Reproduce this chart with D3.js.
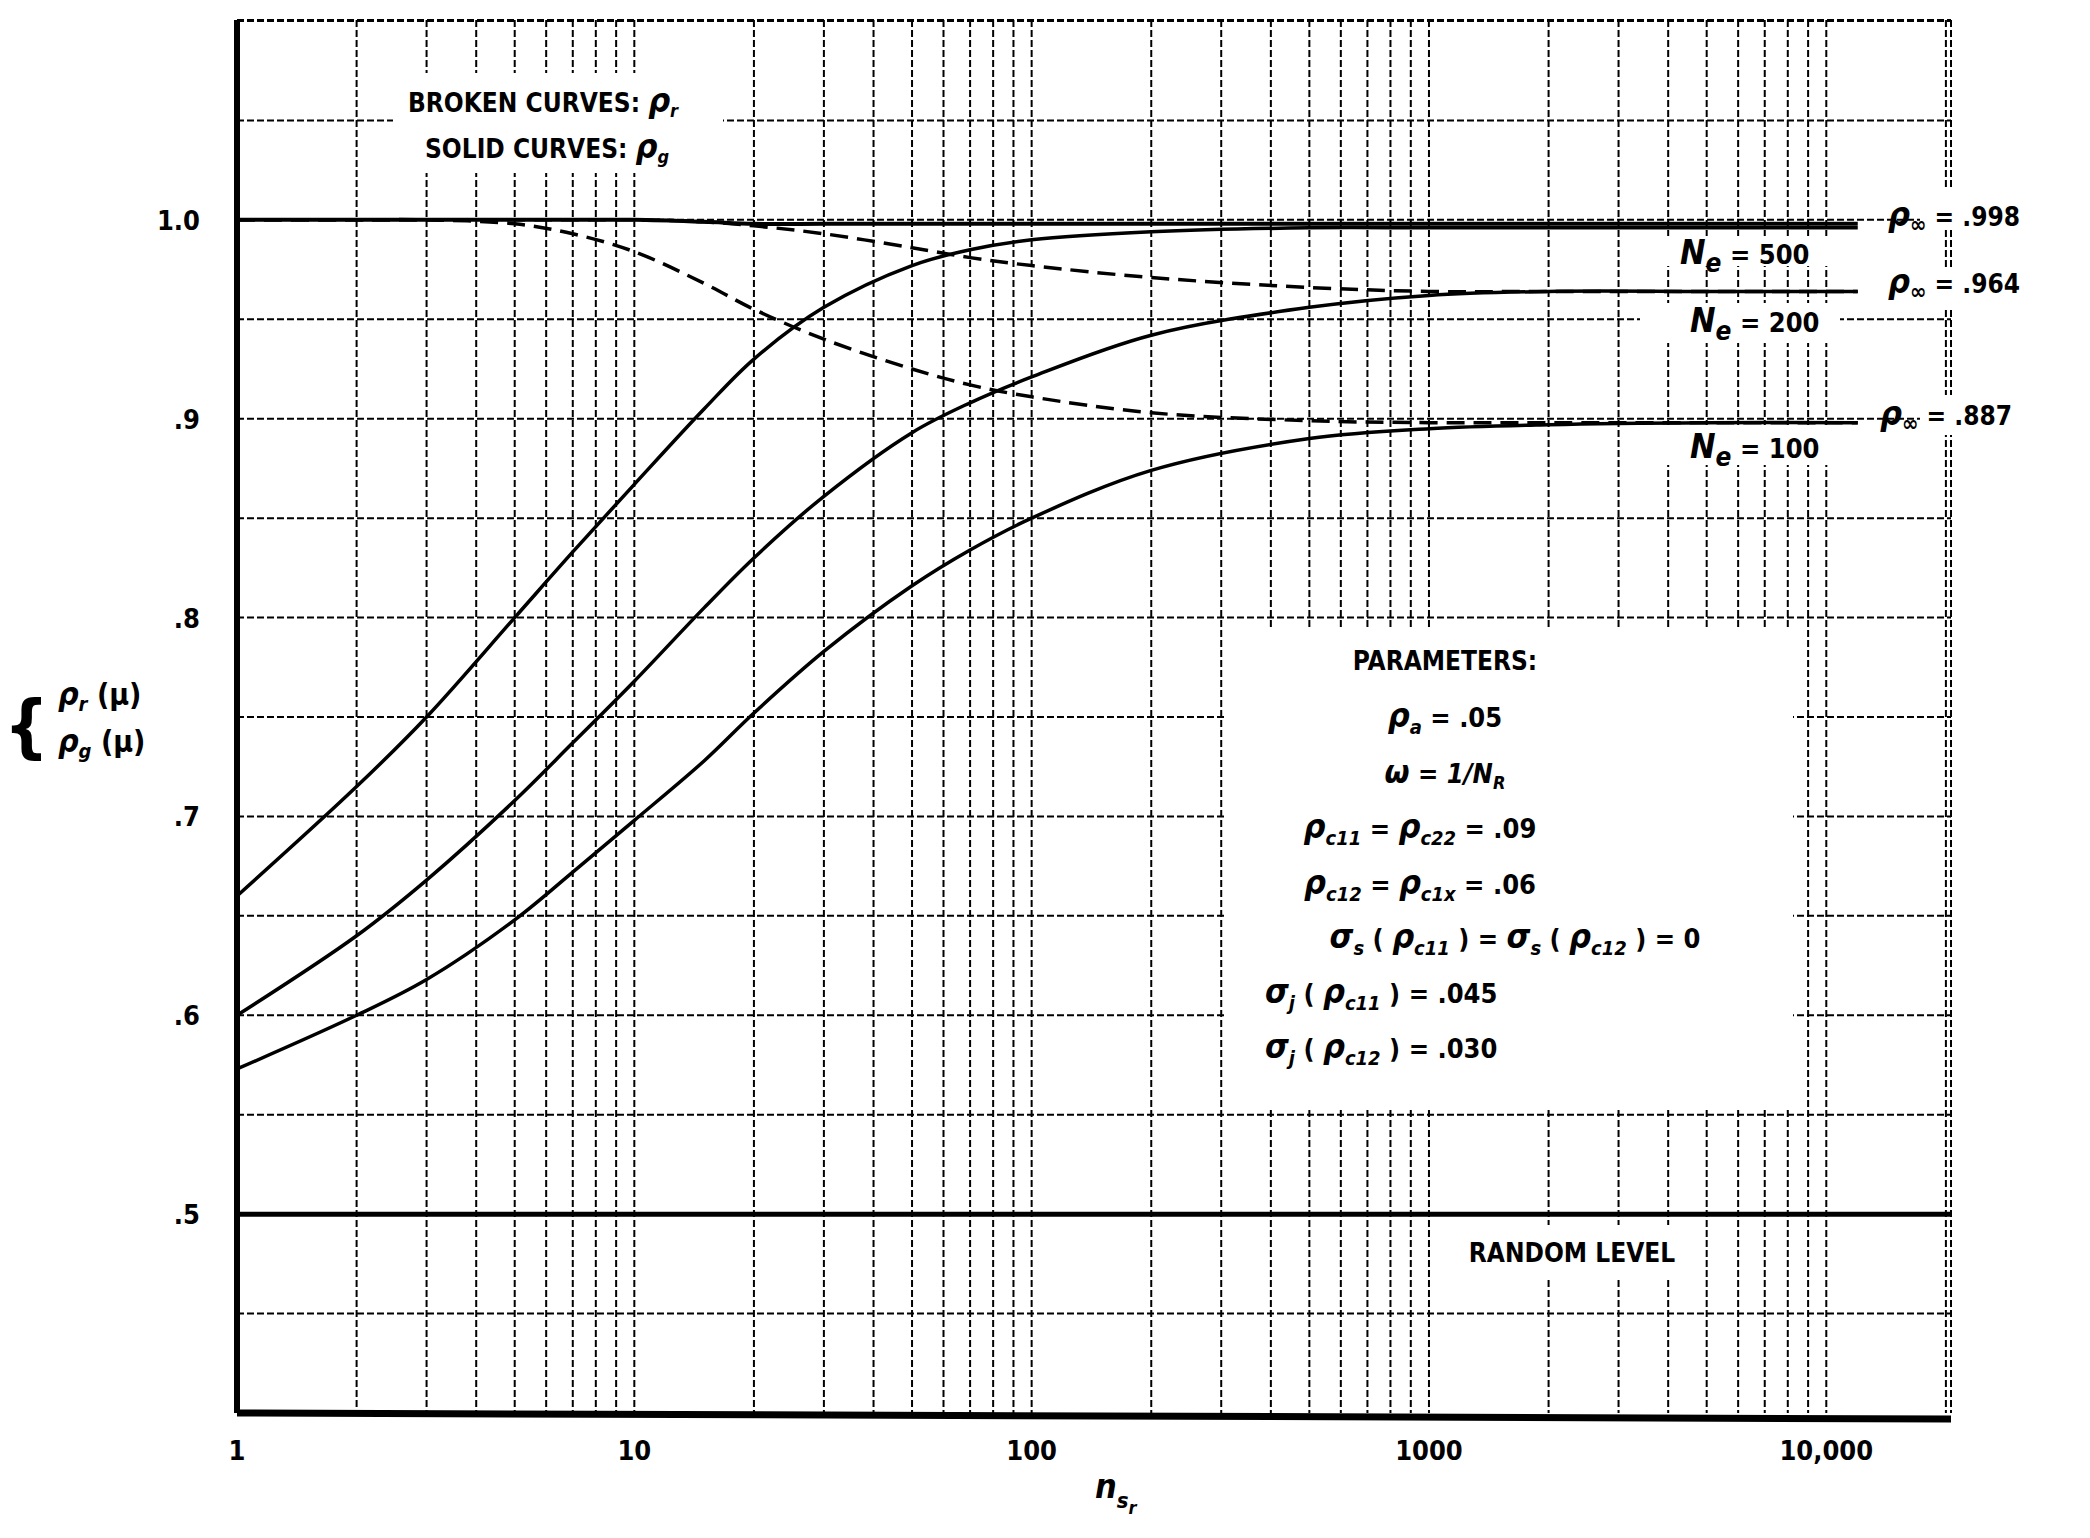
<!DOCTYPE html>
<html><head><meta charset="utf-8">
<script src="https://cdn.jsdelivr.net/npm/d3@7/dist/d3.min.js"></script>
<style>body{margin:0;background:#fff}text{font-family:"Liberation Sans Narrow","DejaVu Sans Condensed",sans-serif;font-weight:bold;fill:#000}</style>
</head><body><svg id="c" width="2090" height="1538"></svg>
<script>
const xTicks=[1,10,100,1000,10000];
const xTickLabels=["1","10","100","1000","10,000"];
const yTicks=[0.5,0.6,0.7,0.8,0.9,1.0];
const yTickLabels=[".5",".6",".7",".8",".9","1.0"];
const nX=[1,2,3,5,7,10,15,20,30,50,70,100,200,500,1000,2000,5000,12000];
const pg500=[0.660,0.715,0.750,0.800,0.833,0.867,0.905,0.930,0.956,0.977,0.985,0.990,0.994,0.996,0.996,0.996,0.996,0.996];
const pg200=[0.600,0.640,0.668,0.708,0.737,0.768,0.805,0.830,0.861,0.893,0.908,0.921,0.942,0.956,0.962,0.964,0.964,0.964];
const pg100=[0.573,0.600,0.618,0.648,0.672,0.698,0.728,0.752,0.783,0.816,0.834,0.850,0.874,0.890,0.895,0.897,0.898,0.898];
const pr500=[1,1,1,1,1,1,0.999,0.998,0.998,0.998,0.998,0.998,0.998,0.998,0.998,0.998,0.998,0.998];
const pr200=[1,1,1,1,1,1,0.999,0.997,0.993,0.986,0.981,0.977,0.971,0.966,0.964,0.964,0.964,0.964];
const pr100=[1,1,1,0.998,0.993,0.984,0.968,0.955,0.940,0.925,0.917,0.911,0.903,0.899,0.898,0.898,0.898,0.898];

const svg=d3.select("#c");
const L=237,R=1951,T=20,B=1413;
const x=d3.scaleLog().domain([1,20600]).range([L,R]);
const y=d3.scaleLinear().domain([0.4,1.1]).range([B,T+1]);
const g=svg.append("g");
const minors=[];for(let d=1;d<=10000;d*=10)for(let k=1;k<=9;k++){const v=d*k;if(v>1&&v<20600)minors.push(v);}
g.selectAll(".vg").data(minors).join("line").attr("x1",d=>x(d)).attr("x2",d=>x(d)).attr("y1",T).attr("y2",B)
 .attr("stroke","#000").attr("stroke-width",2).attr("stroke-dasharray","7,3");
const hs=d3.range(0.45,1.1,0.05);
g.selectAll(".hg").data(hs).join("line").attr("x1",L).attr("x2",R).attr("y1",d=>y(d)).attr("y2",d=>y(d))
 .attr("stroke","#000").attr("stroke-width",2).attr("stroke-dasharray","7,3");
g.append("line").attr("x1",L).attr("x2",R).attr("y1",T).attr("y2",T).attr("stroke","#000").attr("stroke-width",2).attr("stroke-dasharray","7,3");
g.append("line").attr("x1",R).attr("x2",R).attr("y1",T).attr("y2",B).attr("stroke","#000").attr("stroke-width",2).attr("stroke-dasharray","7,3");
const masks=[[393,73,330,100],[1227,627,566,480],[1640,236,200,30],[1640,303,200,40],[1640,425,200,40],[1920,190,170,40],[1920,270,170,40],[1920,395,170,40],[1440,1225,260,55]];
g.selectAll(".m").data(masks).join("rect").attr("x",d=>d[0]).attr("y",d=>d[1]).attr("width",d=>d[2]).attr("height",d=>d[3]).attr("fill","#fff");
g.append("line").attr("x1",L).attr("x2",R).attr("y1",y(0.5)).attr("y2",y(0.5)).attr("stroke","#000").attr("stroke-width",5);
g.append("line").attr("x1",L).attr("x2",L).attr("y1",T).attr("y2",B).attr("stroke","#000").attr("stroke-width",6);
g.append("line").attr("x1",L).attr("x2",R).attr("y1",B).attr("y2",B+6).attr("stroke","#000").attr("stroke-width",7);
const line=d3.line().x(d=>x(d[0])).y(d=>y(d[1])).curve(d3.curveCatmullRom.alpha(0.5));
const mk=a=>nX.map((v,i)=>[v,a[i]]);
[pg500,pg200,pg100].forEach(a=>g.append("path").attr("d",line(mk(a))).attr("fill","none").attr("stroke","#000").attr("stroke-width",3.5));
[pr200,pr100].forEach(a=>g.append("path").attr("d",line(mk(a))).attr("fill","none").attr("stroke","#000").attr("stroke-width",3.5).attr("stroke-dasharray","18,9"));
g.append("path").attr("d",line(mk(pr500))).attr("fill","none").attr("stroke","#000").attr("stroke-width",4);
g.selectAll(".xt").data(xTicks).join("text").attr("x",d=>x(d)).attr("y",1460).attr("text-anchor","middle").attr("font-size",27).text((d,i)=>xTickLabels[i]);
g.selectAll(".yt").data(yTicks).join("text").attr("x",200).attr("y",d=>y(d)+10).attr("text-anchor","end").attr("font-size",27).text((d,i)=>yTickLabels[i]);
const it=(t,X,Y,s,anchor)=>g.append("text").attr("x",X).attr("y",Y).attr("font-size",s||27).attr("text-anchor",anchor||"start").html(t);
it('<tspan font-style="italic" font-size="34">n</tspan><tspan font-style="italic" font-size="22" dy="10">s</tspan><tspan font-style="italic" font-size="18" dy="6">r</tspan>',1095,1498);
g.append("text").attr("x",4).attr("y",750).attr("font-size",70).attr("font-weight","normal").text("{");
it('<tspan font-style="italic" font-size="32">ρ</tspan><tspan font-size="20" font-style="italic" dy="6">r</tspan><tspan dy="-6" font-size="30"> (μ)</tspan>',58,705);
it('<tspan font-style="italic" font-size="32">ρ</tspan><tspan font-size="20" font-style="italic" dy="6">g</tspan><tspan dy="-6" font-size="30"> (μ)</tspan>',58,752);
it('BROKEN CURVES: <tspan font-style="italic" font-size="34">ρ</tspan><tspan font-size="18" font-style="italic" dy="5">r</tspan>',408,112,26);
it('SOLID CURVES: <tspan font-style="italic" font-size="34">ρ</tspan><tspan font-size="18" font-style="italic" dy="5">g</tspan>',425,158,26);
const rl=[[0.998,".998",1888,226],[0.964,".964",1888,293],[0.887,".887",1880,425]];
rl.forEach(r=>it('<tspan font-style="italic" font-size="34">ρ</tspan><tspan font-size="22" dy="6">∞</tspan><tspan dy="-6">  =  '+r[1]+'</tspan>',r[2],r[3],26));
it('<tspan font-style="italic" font-size="34">N</tspan><tspan font-style="italic" font-size="26" dy="8">e</tspan><tspan dy="-8"> = 500</tspan>',1680,264,27);
it('<tspan font-style="italic" font-size="34">N</tspan><tspan font-style="italic" font-size="26" dy="8">e</tspan><tspan dy="-8"> = 200</tspan>',1690,332,27);
it('<tspan font-style="italic" font-size="34">N</tspan><tspan font-style="italic" font-size="26" dy="8">e</tspan><tspan dy="-8"> = 100</tspan>',1690,458,27);
it('RANDOM LEVEL',1572,1262,26,"middle");
const cx=1445;
it('PARAMETERS:',cx,670,26,"middle");
const sub=(a,b)=>'<tspan font-style="italic" font-size="34">'+a+'</tspan><tspan font-style="italic" font-size="20" dy="7">'+b+'</tspan><tspan dy="-7"> </tspan>';
it(sub('ρ','a')+'= .05',cx,727,27,"middle");
it('<tspan font-style="italic" font-size="32">ω</tspan> = <tspan font-style="italic">1/N</tspan><tspan font-size="18" font-style="italic" dy="6">R</tspan>',cx,783,27,"middle");
it(sub('ρ','c11')+'= '+sub('ρ','c22')+' = .09',1420,838,27,"middle");
it(sub('ρ','c12')+'= '+sub('ρ','c1x')+' = .06',1420,894,27,"middle");
it(sub('σ','s')+'( '+sub('ρ','c11')+') = '+sub('σ','s')+'( '+sub('ρ','c12')+') = 0',1515,948,27,"middle");
it(sub('σ','j')+'( '+sub('ρ','c11')+') = .045',1265,1003,27);
it(sub('σ','j')+'( '+sub('ρ','c12')+') = .030',1265,1058,27);
</script></body></html>
